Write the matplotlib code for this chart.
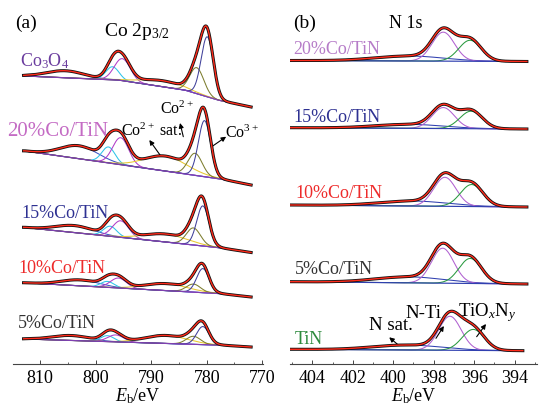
import numpy as np
import matplotlib
matplotlib.use('Agg')
import matplotlib.pyplot as plt

plt.rcParams['font.family'] = ['Liberation Serif', 'DejaVu Serif']
plt.rcParams['mathtext.fontset'] = 'custom'
plt.rcParams['mathtext.rm'] = 'Liberation Serif'
plt.rcParams['mathtext.it'] = 'Liberation Serif:italic'

# ---------------- Panel (a): Co 2p3/2 ----------------
co_labels = ['Co$_3$O$_4$', '20%Co/TiN', '15%Co/TiN', '10%Co/TiN', '5%Co/TiN']
co_label_colors = ['#6a3c9e', '#c46bc4', '#2e3192', '#ee2b2b', '#333333']
co_label_sizes = [13, 15, 13, 13, 13]
co_label_E = [813.64, 815.98, 813.33, 814.0, 814.0]
co_label_y = [302.5, 233, 150.3, 95.7, 40.7]
co_range = [813.0, 772.0]
# baseline nodes (energy) and intensity offsets for each sample
co_base_E = [812.8, 796.0, 784.0, 778.0, 772.0]
co_base = [
    [288, 284, 274, 264, 257],
    [213, 199.7, 190.2, 185.5, 179],
    [136.5, 127, 120, 116.5, 111.5],
    [81.2, 76, 72.4, 70.6, 67],
    [25, 22, 20, 19, 17],
]
# components: broad hump, sat 1, sat 2, Co2+ sat, Co2+, Co3+
co_comp_colors = ['#3a55c8', '#2ec4e8', '#b03cc8', '#e8c830', '#7d7d2e', '#40409a']
co_fwhm = [8.0, 2.8, 3.4, 9.0, 3.0, 2.6]
co_centers = [
    [805.5, 797.0, 795.2, 788.0, 781.8, 779.9],
    [803.0, 797.7, 795.5, 787.4, 782.1, 780.4],
    [803.8, 797.4, 795.5, 787.4, 782.4, 780.7],
    [802.8, 797.9, 795.9, 787.4, 782.4, 780.7],
    [804.5, 797.9, 796.4, 787.4, 782.4, 780.7],
]
co_heights = [
    [7, 13, 22, 6, 26, 60],
    [13, 16, 27, 15, 22, 56],
    [7, 10, 16.5, 8, 17, 40],
    [6, 6, 10, 7, 8, 24],
    [5, 6, 7, 8, 8, 18],
]
co_base_color = '#8040b0'

# ---------------- Panel (b): N 1s ----------------
n_labels = ['20%Co/TiN', '15%Co/TiN', '10%Co/TiN', '5%Co/TiN', 'TiN']
n_label_colors = ['#b67cc8', '#2e3192', '#ee2b2b', '#333333', '#2e8b3e']
n_label_E = [404.94, 404.94, 404.85, 404.85, 404.85]
n_label_y = [314, 246, 170.7, 95, 24]
n_start_E = [405.1, 405.1, 405.1, 405.1, 405.1]
n_end_E = [393.4, 393.4, 393.4, 393.4, 393.6]
n_base_start = [303.5, 236.3, 159, 82.3, 14.7]
n_base_end = [302.5, 235, 157, 80, 13.3]
# components: satellite hump, N-Ti, TiOxNy
n_comp_colors = ['#3040b0', '#b060d0', '#2a9a40']
n_fwhm = [4.0, 1.3, 1.3]
n_centers = [
    [399.2, 397.53, 396.21],
    [399.2, 397.53, 396.16],
    [399.0, 397.45, 396.13],
    [399.2, 397.56, 396.20],
    [399.3, 397.20, 396.05],
]
n_heights = [
    [5, 29, 21],
    [4, 21, 17.5],
    [5, 29, 22],
    [6, 35, 25],
    [5, 34, 21],
]


def gauss(E, c, h, fw):
    s = fw / 2.3548
    return h * np.exp(-0.5 * ((E - c) / s) ** 2)


fig = plt.figure(figsize=(5.39, 4.09), dpi=100)
ax_a = fig.add_axes([13 / 539, 45 / 409, 249.5 / 539, 364 / 409])
ax_b = fig.add_axes([290 / 539, 45 / 409, 247 / 539, 364 / 409])

for ax in (ax_a, ax_b):
    for s in ('top', 'left', 'right'):
        ax.spines[s].set_visible(False)
    ax.spines['bottom'].set_color('#444444')
    ax.spines['bottom'].set_linewidth(0.8)
    ax.set_yticks([])
    ax.set_ylim(0, 364)
    ax.tick_params(axis='x', which='major', direction='in', length=3, width=0.7,
                   labelsize=13, pad=4, color='#444444')
    ax.tick_params(axis='x', which='minor', direction='in', length=1.8, width=0.6,
                   color='#444444')
    ax.patch.set_alpha(0)
    ax.set_xlabel('$E_\\mathrm{b}$/eV', fontsize=13, labelpad=0)

# ---- draw panel a ----
ax_a.set_xlim(814.9, 769.95)
ax_a.set_xticks([810, 800, 790, 780, 770])
ax_a.set_xticks([805, 795, 785, 775], minor=True)
Ea = np.linspace(co_range[0], co_range[1], 500)
for i in range(len(co_labels)):
    base = np.interp(Ea, co_base_E[::-1], co_base[i][::-1])
    total = base.copy()
    for k in range(6):
        g = gauss(Ea, co_centers[i][k], co_heights[i][k], co_fwhm[k])
        total += g
        ax_a.plot(Ea, base + g, color=co_comp_colors[k], lw=0.75, zorder=2)
    ax_a.plot(Ea, base, color=co_base_color, lw=0.85, zorder=2)
    ax_a.plot(Ea, total, color='#111111', lw=2.2, zorder=3)
    ax_a.plot(Ea, total, color='#ff2a1a', lw=1.0, zorder=4)
    ax_a.text(co_label_E[i], co_label_y[i], co_labels[i], color=co_label_colors[i],
              fontsize=co_label_sizes[i], ha='left', va='center', clip_on=False)

ax_a.text(812.56, 341, '(a)', fontsize=14, ha='center', va='center')
ax_a.text(792.47, 332, 'Co 2p$_{3/2}$', fontsize=14, ha='center', va='center')

arw = dict(arrowstyle='-|>', lw=0.8, color='black', mutation_scale=7,
           shrinkA=0, shrinkB=0)
ax_a.text(785.3, 255, 'Co$^{2+}$', fontsize=11.5, ha='center', va='center')
ax_a.annotate('', xy=(784.81, 241), xytext=(784.22, 227.3), arrowprops=arw)
ax_a.text(790.0, 233, 'Co$^{2+}$ sat.', fontsize=11.5, ha='center', va='center')
ax_a.annotate('', xy=(790.34, 224), xytext=(788.41, 209), arrowprops=arw)
ax_a.text(773.64, 231, 'Co$^{3+}$', fontsize=11.5, ha='center', va='center')
ax_a.annotate('', xy=(776.5, 227.3), xytext=(779.1, 217.3), arrowprops=arw)

# ---- draw panel b ----
ax_b.set_xlim(405.1, 392.9)
ax_b.set_xticks([404, 402, 400, 398, 396, 394])
ax_b.set_xticks([405, 403, 401, 399, 397, 395, 393], minor=True)
for i in range(len(n_labels)):
    Eb = np.linspace(n_start_E[i], n_end_E[i], 500)
    base = np.interp(Eb, [n_end_E[i], n_start_E[i]], [n_base_end[i], n_base_start[i]])
    total = base.copy()
    for k in range(3):
        g = gauss(Eb, n_centers[i][k], n_heights[i][k], n_fwhm[k])
        total += g
        ax_b.plot(Eb, base + g, color=n_comp_colors[k], lw=0.75, zorder=2)
    ax_b.plot(Eb, base, color='#3040b0', lw=0.85, zorder=2)
    ax_b.plot(Eb, total, color='#111111', lw=2.2, zorder=3)
    ax_b.plot(Eb, total, color='#ff2a1a', lw=1.0, zorder=4)
    ax_b.text(n_label_E[i], n_label_y[i], n_labels[i], color=n_label_colors[i],
              fontsize=13, ha='left', va='center', clip_on=False)

ax_b.text(404.36, 340.5, '(b)', fontsize=14, ha='center', va='center')
ax_b.text(399.38, 340.5, 'N 1s', fontsize=13, ha='center', va='center')
ax_b.text(400.12, 39, 'N sat.', fontsize=13.5, ha='center', va='center')
ax_b.annotate('', xy=(400.2, 26.7), xytext=(399.75, 19), arrowprops=arw)
ax_b.text(398.52, 51, 'N-Ti', fontsize=13.5, ha='center', va='center')
ax_b.annotate('', xy=(397.5, 38), xytext=(397.89, 25.7), arrowprops=arw)
ax_b.text(395.37, 51.5, 'TiO$_x$N$_y$', fontsize=13.5, ha='center', va='center')
ax_b.annotate('', xy=(395.42, 40), xytext=(395.88, 27.3), arrowprops=arw)

fig.savefig('out.png', dpi=100)
